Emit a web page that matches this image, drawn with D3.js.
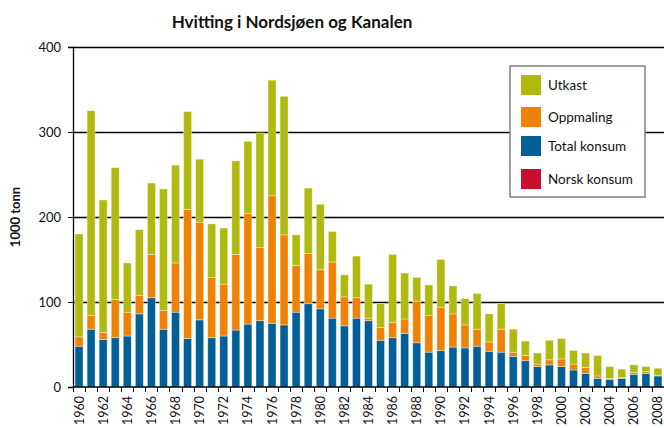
<!DOCTYPE html>
<html>
<head>
<meta charset="utf-8">
<script src="https://cdn.jsdelivr.net/npm/d3@7"></script>
<style>
  body { margin: 0; background: #fff; }
  text { font-family: Lato, "Open Sans", sans-serif; fill: #111; }
</style>
</head>
<body>
<div id="chart"></div>
<script>
// years 1960..2008
const years = d3.range(1960, 2009)

// total consumption (blue, bottom), 1000 tonn
const totalKonsum = [
  48, 68, 56, 58, 60, 86, 105, 68, 88, 57,
  79, 58, 60, 67, 74, 78, 75, 73, 88, 98,
  92, 81, 72, 81, 78, 55, 58, 63, 52, 41,
  43, 47, 46, 48, 42, 41, 36, 31, 24, 26,
  24, 20, 16, 10, 9, 10, 15, 16, 13
]
// industrial fishery (orange, middle)
const oppmaling = [
  11, 16, 8, 45, 28, 22, 51, 22, 58, 152,
  115, 71, 61, 89, 130, 86, 150, 106, 55, 59,
  46, 66, 34, 24, 3, 15, 18, 17, 49, 43,
  51, 39, 27, 20, 11, 27, 5, 6, 3, 6,
  9, 7, 7, 3, 1, 1, 2, 2, 1
]
// discards (green, top)
const utkast = [
  121, 241, 156, 155, 58, 77, 84, 143, 115, 115,
  74, 63, 66, 110, 85, 135, 136, 163, 36, 77,
  77, 36, 26, 49, 40, 28, 80, 54, 28, 36,
  56, 33, 31, 42, 33, 30, 27, 17, 13, 23,
  24, 16, 17, 24, 14, 10, 9, 6, 8
]

const legendLabels = ["Utkast", "Oppmaling", "Total konsum", "Norsk konsum"]
const legendColors = ["#afb90e", "#ef8205", "#005f97", "#c8102e"]
const yTicks = [0, 100, 200, 300, 400]

const width = 664
const height = 428
const margin = {top: 47, right: 0, bottom: 41, left: 73}

const svg = d3.select("#chart")
  .append("svg")
  .attr("width", width)
  .attr("height", height)

const x = d3.scaleBand()
  .domain(years)
  .range([margin.left, width - margin.right])
  .paddingInner(0.34)
  .paddingOuter(0.17)

const y = d3.scaleLinear()
  .domain([0, 400])
  .range([height - margin.bottom, margin.top])

// gridlines
svg.append("g")
  .selectAll("line")
  .data(yTicks.filter(d => d > 0))
  .enter()
  .append("line")
  .attr("x1", margin.left)
  .attr("x2", width)
  .attr("y1", d => Math.round(y(d)) + 0.5)
  .attr("y2", d => Math.round(y(d)) + 0.5)
  .style("stroke", "#000")
  .style("stroke-width", 1.3)

// stacked bars
const rows = years.map((yr, i) => ({
  year: yr,
  total: totalKonsum[i],
  opp: oppmaling[i],
  utkast: utkast[i]
}))
const stack = d3.stack().keys(["total", "opp", "utkast"])(rows)
const colors = {total: "#005f97", opp: "#ef8205", utkast: "#afb90e"}

svg.append("g")
  .selectAll("g")
  .data(stack)
  .enter()
  .append("g")
  .style("fill", d => colors[d.key])
  .selectAll("rect")
  .data(d => d)
  .enter()
  .append("rect")
  .attr("x", d => x(d.data.year))
  .attr("width", x.bandwidth())
  .attr("y", d => y(d[1]))
  .attr("height", d => y(d[0]) - y(d[1]))
  .style("stroke", "#fff")
  .style("stroke-opacity", 0.45)
  .style("stroke-width", 0.8)

// y axis
const yAxis = svg.append("g")
  .attr("transform", `translate(${margin.left},0)`)
  .call(d3.axisLeft(y).tickValues(yTicks).tickSize(5).tickPadding(7))
yAxis.select(".domain").style("stroke", "#000").style("stroke-width", 1.3)
yAxis.selectAll(".tick line").style("stroke", "#000")
yAxis.selectAll("text")
  .style("font-size", "13px")
  .style("font-family", "Lato, sans-serif")
  .style("fill", "#111")

// x axis: ticks at band boundaries, labels every second year
const xAxisG = svg.append("g")
  .attr("transform", `translate(0,${y(0)})`)
xAxisG.append("line")
  .attr("x1", margin.left)
  .attr("x2", width)
  .style("stroke", "#000")
  .style("stroke-width", 1.3)
xAxisG.selectAll(".xt")
  .data(years)
  .enter()
  .append("line")
  .attr("x1", d => Math.round(x(d) - x.step() * x.paddingInner() / 2) + 0.5)
  .attr("x2", d => Math.round(x(d) - x.step() * x.paddingInner() / 2) + 0.5)
  .attr("y1", 0)
  .attr("y2", 5)
  .style("stroke", "#000")
xAxisG.selectAll(".xl")
  .data(years.filter(d => d % 2 === 0))
  .enter()
  .append("text")
  .attr("transform", d => `translate(${x(d) + x.bandwidth() / 2 + 4.5},${9}) rotate(-90)`)
  .style("text-anchor", "end")
  .style("font-size", "12.5px")
  .text(d => d)

// title
svg.append("text")
  .attr("x", 292)
  .attr("y", 28)
  .style("text-anchor", "middle")
  .style("font-size", "17px")
  .style("font-weight", "bold")
  .text("Hvitting i Nordsjøen og Kanalen")

// y label
svg.append("text")
  .attr("transform", `translate(20,${y(200)}) rotate(-90)`)
  .style("text-anchor", "middle")
  .style("font-size", "13px")
  .style("font-weight", "bold")
  .text("1000 tonn")

// legend
const legend = svg.append("g").attr("transform", "translate(510,66)")
legend.append("rect")
  .attr("width", 135)
  .attr("height", 131)
  .style("fill", "#fff")
  .style("stroke", "#808080")
  .style("stroke-width", 1.5)
const items = legend.selectAll(".item")
  .data(legendLabels)
  .enter()
  .append("g")
  .attr("transform", (d, i) => `translate(11,${[9, 41, 70, 103][i]})`)
items.append("rect")
  .attr("width", 20)
  .attr("height", 20)
  .style("fill", (d, i) => legendColors[i])
items.append("text")
  .attr("x", 27)
  .attr("y", 15)
  .style("font-size", "13.5px")
  .text(d => d)
</script>
</body>
</html>
